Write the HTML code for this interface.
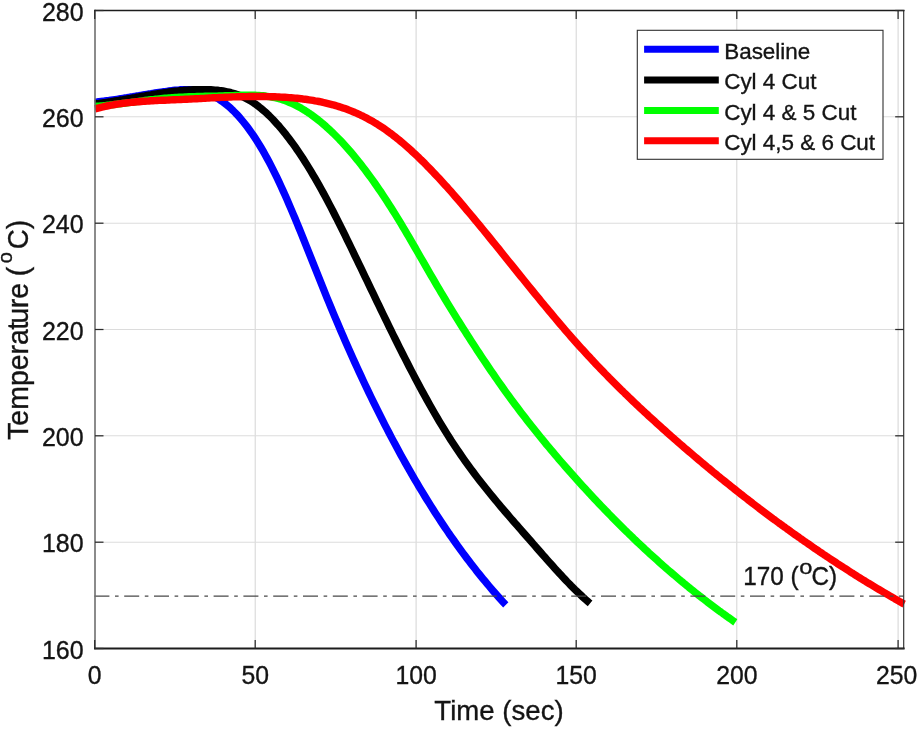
<!DOCTYPE html>
<html lang="en"><head><meta charset="utf-8">
<title>Temperature vs Time</title>
<style>
html,body{margin:0;padding:0;background:#fff;}
body{width:921px;height:730px;overflow:hidden;font-family:'Liberation Sans', Arial, Helvetica, sans-serif;}
svg{display:block;filter:blur(0.45px);}
text{font-family:'Liberation Sans', Arial, Helvetica, sans-serif;fill:#141414;stroke:#141414;stroke-width:0.35px;}
</style></head><body>
<svg width="921" height="730" viewBox="0 0 921 730">
<rect x="0" y="0" width="921" height="730" fill="#ffffff"/>
<g stroke="#d6d6d6" stroke-width="1.05" fill="none">
<line x1="255.2" y1="10.5" x2="255.2" y2="648.5"/>
<line x1="416.1" y1="10.5" x2="416.1" y2="648.5"/>
<line x1="576.2" y1="10.5" x2="576.2" y2="648.5"/>
<line x1="736.8" y1="10.5" x2="736.8" y2="648.5"/>
<line x1="898.1" y1="10.5" x2="898.1" y2="648.5"/>
</g>
<g stroke="#dcdcdc" stroke-width="1.05" fill="none">
<line x1="95.0" y1="542.2" x2="903.7" y2="542.2"/>
<line x1="95.0" y1="435.8" x2="903.7" y2="435.8"/>
<line x1="95.0" y1="329.5" x2="903.7" y2="329.5"/>
<line x1="95.0" y1="223.2" x2="903.7" y2="223.2"/>
<line x1="95.0" y1="116.8" x2="903.7" y2="116.8"/>
</g>
<g fill="none" stroke-width="7.4" stroke-linejoin="round" stroke-linecap="butt">
<path stroke="#0000ff" d="M95.0,102.2 L97.0,102.0 L99.0,101.7 L101.0,101.5 L103.0,101.3 L105.0,101.0 L107.0,100.7 L109.0,100.5 L111.0,100.2 L113.0,99.9 L115.0,99.6 L117.0,99.3 L119.0,99.0 L121.0,98.6 L123.0,98.3 L125.0,98.0 L127.0,97.7 L129.0,97.3 L131.0,97.0 L133.0,96.7 L135.0,96.3 L137.0,96.0 L139.0,95.7 L141.0,95.3 L143.0,95.0 L145.0,94.6 L147.0,94.3 L149.0,94.0 L151.0,93.7 L153.0,93.3 L155.0,93.0 L157.0,92.7 L159.0,92.4 L161.0,92.1 L163.0,91.8 L165.0,91.6 L167.0,91.3 L169.0,91.0 L171.0,90.8 L173.0,90.5 L175.0,90.3 L177.0,90.1 L179.0,90.0 L181.0,89.8 L183.0,89.7 L185.0,89.7 L187.0,89.7 L189.0,89.7 L191.0,89.8 L193.0,90.0 L195.0,90.2 L197.0,90.5 L199.0,90.9 L201.0,91.3 L203.0,91.8 L205.0,92.4 L207.0,93.1 L209.0,93.9 L211.0,94.8 L213.0,95.8 L215.0,96.8 L217.0,98.0 L219.0,99.2 L221.0,100.6 L223.0,102.0 L225.0,103.5 L227.0,105.1 L229.0,106.8 L231.0,108.6 L233.0,110.5 L235.0,112.5 L237.0,114.6 L239.0,116.8 L241.0,119.1 L243.0,121.5 L245.0,124.0 L247.0,126.6 L249.0,129.3 L251.0,132.1 L253.0,134.9 L255.0,137.9 L257.0,141.0 L259.0,144.2 L261.0,147.5 L263.0,150.9 L265.0,154.5 L267.0,158.1 L269.0,161.8 L271.0,165.6 L273.0,169.6 L275.0,173.6 L277.0,177.7 L279.0,181.9 L281.0,186.2 L283.0,190.6 L285.0,195.1 L287.0,199.6 L289.0,204.2 L291.0,208.9 L293.0,213.6 L295.0,218.3 L297.0,223.2 L299.0,228.0 L301.0,232.9 L303.0,237.9 L305.0,242.8 L307.0,247.8 L309.0,252.8 L311.0,257.8 L313.0,262.9 L315.0,267.9 L317.0,272.9 L319.0,277.9 L321.0,282.9 L323.0,287.9 L325.0,292.8 L327.0,297.8 L329.0,302.7 L331.0,307.5 L333.0,312.3 L335.0,317.1 L337.0,321.8 L339.0,326.5 L341.0,331.2 L343.0,335.8 L345.0,340.4 L347.0,345.0 L349.0,349.5 L351.0,354.0 L353.0,358.5 L355.0,362.9 L357.0,367.3 L359.0,371.6 L361.0,375.9 L363.0,380.2 L365.0,384.5 L367.0,388.7 L369.0,392.9 L371.0,397.0 L373.0,401.1 L375.0,405.2 L377.0,409.2 L379.0,413.2 L381.0,417.2 L383.0,421.2 L385.0,425.1 L387.0,428.9 L389.0,432.8 L391.0,436.6 L393.0,440.4 L395.0,444.1 L397.0,447.8 L399.0,451.5 L401.0,455.2 L403.0,458.8 L405.0,462.4 L407.0,465.9 L409.0,469.4 L411.0,472.9 L413.0,476.4 L415.0,479.8 L417.0,483.2 L419.0,486.6 L421.0,489.9 L423.0,493.2 L425.0,496.5 L427.0,499.7 L429.0,502.9 L431.0,506.1 L433.0,509.3 L435.0,512.4 L437.0,515.5 L439.0,518.6 L441.0,521.6 L443.0,524.6 L445.0,527.6 L447.0,530.5 L449.0,533.5 L451.0,536.3 L453.0,539.2 L455.0,542.0 L457.0,544.8 L459.0,547.6 L461.0,550.4 L463.0,553.1 L465.0,555.8 L467.0,558.5 L469.0,561.1 L471.0,563.7 L473.0,566.3 L475.0,568.8 L477.0,571.4 L479.0,573.9 L481.0,576.4 L483.0,578.8 L485.0,581.2 L487.0,583.6 L489.0,586.0 L491.0,588.4 L493.0,590.7 L495.0,593.0 L497.0,595.2 L499.0,597.5 L501.0,599.7 L503.0,601.9 L505.0,604.1 L505.8,604.9"/>
<path stroke="#000000" d="M95.0,103.9 L97.0,103.6 L99.0,103.4 L101.0,103.1 L103.0,102.8 L105.0,102.6 L107.0,102.3 L109.0,102.0 L111.0,101.7 L113.0,101.3 L115.0,101.0 L117.0,100.7 L119.0,100.4 L121.0,100.0 L123.0,99.7 L125.0,99.3 L127.0,99.0 L129.0,98.6 L131.0,98.3 L133.0,97.9 L135.0,97.6 L137.0,97.2 L139.0,96.8 L141.0,96.5 L143.0,96.1 L145.0,95.8 L147.0,95.4 L149.0,95.1 L151.0,94.8 L153.0,94.4 L155.0,94.1 L157.0,93.8 L159.0,93.5 L161.0,93.2 L163.0,92.9 L165.0,92.6 L167.0,92.3 L169.0,92.0 L171.0,91.8 L173.0,91.5 L175.0,91.3 L177.0,91.1 L179.0,90.8 L181.0,90.6 L183.0,90.5 L185.0,90.3 L187.0,90.1 L189.0,90.0 L191.0,89.9 L193.0,89.8 L195.0,89.7 L197.0,89.7 L199.0,89.6 L201.0,89.6 L203.0,89.6 L205.0,89.6 L207.0,89.6 L209.0,89.7 L211.0,89.8 L213.0,89.9 L215.0,90.1 L217.0,90.2 L219.0,90.5 L221.0,90.7 L223.0,91.0 L225.0,91.4 L227.0,91.8 L229.0,92.2 L231.0,92.7 L233.0,93.3 L235.0,93.9 L237.0,94.5 L239.0,95.3 L241.0,96.1 L243.0,97.0 L245.0,97.9 L247.0,98.9 L249.0,100.0 L251.0,101.2 L253.0,102.5 L255.0,103.8 L257.0,105.3 L259.0,106.8 L261.0,108.4 L263.0,110.1 L265.0,111.8 L267.0,113.6 L269.0,115.5 L271.0,117.5 L273.0,119.5 L275.0,121.7 L277.0,123.9 L279.0,126.1 L281.0,128.5 L283.0,130.9 L285.0,133.3 L287.0,135.9 L289.0,138.5 L291.0,141.2 L293.0,143.9 L295.0,146.7 L297.0,149.6 L299.0,152.5 L301.0,155.5 L303.0,158.6 L305.0,161.7 L307.0,164.9 L309.0,168.1 L311.0,171.4 L313.0,174.8 L315.0,178.2 L317.0,181.7 L319.0,185.2 L321.0,188.8 L323.0,192.4 L325.0,196.1 L327.0,199.8 L329.0,203.6 L331.0,207.4 L333.0,211.3 L335.0,215.2 L337.0,219.1 L339.0,223.1 L341.0,227.1 L343.0,231.2 L345.0,235.2 L347.0,239.3 L349.0,243.4 L351.0,247.5 L353.0,251.6 L355.0,255.8 L357.0,259.9 L359.0,264.1 L361.0,268.2 L363.0,272.4 L365.0,276.6 L367.0,280.7 L369.0,284.9 L371.0,289.1 L373.0,293.2 L375.0,297.4 L377.0,301.6 L379.0,305.7 L381.0,309.9 L383.0,314.0 L385.0,318.1 L387.0,322.2 L389.0,326.3 L391.0,330.4 L393.0,334.5 L395.0,338.5 L397.0,342.5 L399.0,346.6 L401.0,350.5 L403.0,354.5 L405.0,358.4 L407.0,362.3 L409.0,366.2 L411.0,370.1 L413.0,373.9 L415.0,377.7 L417.0,381.5 L419.0,385.3 L421.0,389.0 L423.0,392.6 L425.0,396.3 L427.0,399.9 L429.0,403.5 L431.0,407.0 L433.0,410.5 L435.0,414.0 L437.0,417.4 L439.0,420.8 L441.0,424.1 L443.0,427.4 L445.0,430.7 L447.0,433.9 L449.0,437.0 L451.0,440.2 L453.0,443.2 L455.0,446.3 L457.0,449.3 L459.0,452.2 L461.0,455.1 L463.0,458.0 L465.0,460.8 L467.0,463.6 L469.0,466.4 L471.0,469.1 L473.0,471.8 L475.0,474.4 L477.0,477.1 L479.0,479.7 L481.0,482.3 L483.0,484.8 L485.0,487.3 L487.0,489.8 L489.0,492.3 L491.0,494.8 L493.0,497.2 L495.0,499.6 L497.0,502.0 L499.0,504.4 L501.0,506.8 L503.0,509.2 L505.0,511.5 L507.0,513.8 L509.0,516.1 L511.0,518.5 L513.0,520.8 L515.0,523.1 L517.0,525.3 L519.0,527.6 L521.0,529.9 L523.0,532.2 L525.0,534.5 L527.0,536.8 L529.0,539.0 L531.0,541.3 L533.0,543.6 L535.0,545.9 L537.0,548.2 L539.0,550.5 L541.0,552.8 L543.0,555.1 L545.0,557.3 L547.0,559.6 L549.0,561.9 L551.0,564.1 L553.0,566.3 L555.0,568.6 L557.0,570.8 L559.0,572.9 L561.0,575.1 L563.0,577.3 L565.0,579.4 L567.0,581.5 L569.0,583.5 L571.0,585.6 L573.0,587.6 L575.0,589.6 L577.0,591.5 L579.0,593.4 L581.0,595.3 L583.0,597.2 L585.0,599.0 L587.0,600.7 L589.0,602.5 L590.1,603.4"/>
<path stroke="#00ff00" d="M95.0,106.5 L97.0,106.3 L99.0,106.1 L101.0,105.9 L103.0,105.8 L105.0,105.6 L107.0,105.3 L109.0,105.1 L111.0,104.9 L113.0,104.7 L115.0,104.4 L117.0,104.2 L119.0,103.9 L121.0,103.7 L123.0,103.4 L125.0,103.2 L127.0,102.9 L129.0,102.6 L131.0,102.4 L133.0,102.1 L135.0,101.9 L137.0,101.6 L139.0,101.3 L141.0,101.1 L143.0,100.8 L145.0,100.5 L147.0,100.3 L149.0,100.0 L151.0,99.8 L153.0,99.6 L155.0,99.3 L157.0,99.1 L159.0,98.9 L161.0,98.7 L163.0,98.5 L165.0,98.3 L167.0,98.1 L169.0,97.9 L171.0,97.8 L173.0,97.6 L175.0,97.5 L177.0,97.4 L179.0,97.3 L181.0,97.2 L183.0,97.1 L185.0,97.0 L187.0,96.9 L189.0,96.8 L191.0,96.7 L193.0,96.7 L195.0,96.6 L197.0,96.5 L199.0,96.5 L201.0,96.4 L203.0,96.4 L205.0,96.3 L207.0,96.3 L209.0,96.3 L211.0,96.2 L213.0,96.2 L215.0,96.1 L217.0,96.1 L219.0,96.0 L221.0,96.0 L223.0,95.9 L225.0,95.8 L227.0,95.8 L229.0,95.7 L231.0,95.6 L233.0,95.6 L235.0,95.5 L237.0,95.4 L239.0,95.4 L241.0,95.3 L243.0,95.2 L245.0,95.2 L247.0,95.2 L249.0,95.2 L251.0,95.2 L253.0,95.2 L255.0,95.3 L257.0,95.4 L259.0,95.5 L261.0,95.6 L263.0,95.8 L265.0,96.0 L267.0,96.3 L269.0,96.6 L271.0,96.9 L273.0,97.3 L275.0,97.7 L277.0,98.2 L279.0,98.7 L281.0,99.3 L283.0,99.9 L285.0,100.6 L287.0,101.4 L289.0,102.2 L291.0,103.0 L293.0,104.0 L295.0,104.9 L297.0,105.9 L299.0,107.0 L301.0,108.1 L303.0,109.3 L305.0,110.5 L307.0,111.8 L309.0,113.2 L311.0,114.5 L313.0,116.0 L315.0,117.5 L317.0,119.0 L319.0,120.6 L321.0,122.2 L323.0,123.9 L325.0,125.6 L327.0,127.4 L329.0,129.2 L331.0,131.1 L333.0,133.0 L335.0,135.0 L337.0,137.0 L339.0,139.0 L341.0,141.1 L343.0,143.3 L345.0,145.5 L347.0,147.7 L349.0,150.0 L351.0,152.3 L353.0,154.7 L355.0,157.1 L357.0,159.6 L359.0,162.0 L361.0,164.6 L363.0,167.2 L365.0,169.8 L367.0,172.5 L369.0,175.2 L371.0,177.9 L373.0,180.7 L375.0,183.5 L377.0,186.4 L379.0,189.3 L381.0,192.2 L383.0,195.2 L385.0,198.2 L387.0,201.3 L389.0,204.4 L391.0,207.5 L393.0,210.7 L395.0,213.9 L397.0,217.1 L399.0,220.4 L401.0,223.7 L403.0,227.1 L405.0,230.4 L407.0,233.8 L409.0,237.2 L411.0,240.7 L413.0,244.1 L415.0,247.5 L417.0,251.0 L419.0,254.5 L421.0,258.0 L423.0,261.4 L425.0,264.9 L427.0,268.4 L429.0,271.8 L431.0,275.3 L433.0,278.7 L435.0,282.2 L437.0,285.6 L439.0,288.9 L441.0,292.3 L443.0,295.7 L445.0,299.0 L447.0,302.3 L449.0,305.6 L451.0,308.9 L453.0,312.1 L455.0,315.4 L457.0,318.6 L459.0,321.8 L461.0,325.0 L463.0,328.2 L465.0,331.3 L467.0,334.5 L469.0,337.6 L471.0,340.7 L473.0,343.8 L475.0,346.8 L477.0,349.9 L479.0,352.9 L481.0,356.0 L483.0,359.0 L485.0,361.9 L487.0,364.9 L489.0,367.9 L491.0,370.8 L493.0,373.7 L495.0,376.6 L497.0,379.5 L499.0,382.3 L501.0,385.2 L503.0,388.0 L505.0,390.8 L507.0,393.6 L509.0,396.3 L511.0,399.1 L513.0,401.8 L515.0,404.5 L517.0,407.1 L519.0,409.8 L521.0,412.4 L523.0,415.0 L525.0,417.6 L527.0,420.2 L529.0,422.8 L531.0,425.3 L533.0,427.8 L535.0,430.3 L537.0,432.8 L539.0,435.3 L541.0,437.8 L543.0,440.2 L545.0,442.6 L547.0,445.1 L549.0,447.4 L551.0,449.8 L553.0,452.2 L555.0,454.6 L557.0,456.9 L559.0,459.3 L561.0,461.6 L563.0,463.9 L565.0,466.2 L567.0,468.5 L569.0,470.8 L571.0,473.0 L573.0,475.3 L575.0,477.5 L577.0,479.8 L579.0,482.0 L581.0,484.2 L583.0,486.4 L585.0,488.6 L587.0,490.8 L589.0,492.9 L591.0,495.1 L593.0,497.2 L595.0,499.4 L597.0,501.5 L599.0,503.6 L601.0,505.7 L603.0,507.8 L605.0,509.9 L607.0,511.9 L609.0,514.0 L611.0,516.0 L613.0,518.1 L615.0,520.1 L617.0,522.1 L619.0,524.1 L621.0,526.1 L623.0,528.1 L625.0,530.1 L627.0,532.0 L629.0,534.0 L631.0,535.9 L633.0,537.8 L635.0,539.8 L637.0,541.7 L639.0,543.6 L641.0,545.4 L643.0,547.3 L645.0,549.2 L647.0,551.0 L649.0,552.9 L651.0,554.7 L653.0,556.5 L655.0,558.3 L657.0,560.1 L659.0,561.9 L661.0,563.7 L663.0,565.5 L665.0,567.2 L667.0,569.0 L669.0,570.7 L671.0,572.4 L673.0,574.1 L675.0,575.8 L677.0,577.5 L679.0,579.2 L681.0,580.9 L683.0,582.5 L685.0,584.2 L687.0,585.8 L689.0,587.5 L691.0,589.1 L693.0,590.7 L695.0,592.3 L697.0,593.9 L699.0,595.5 L701.0,597.0 L703.0,598.6 L705.0,600.1 L707.0,601.7 L709.0,603.2 L711.0,604.7 L713.0,606.2 L715.0,607.7 L717.0,609.2 L719.0,610.7 L721.0,612.1 L723.0,613.6 L725.0,615.0 L727.0,616.5 L729.0,617.9 L731.0,619.3 L733.0,620.7 L735.0,622.1 L735.3,622.3"/>
<path stroke="#ff0000" d="M95.0,108.8 L97.0,108.3 L99.0,107.8 L101.0,107.3 L103.0,106.9 L105.0,106.4 L107.0,106.0 L109.0,105.6 L111.0,105.2 L113.0,104.9 L115.0,104.5 L117.0,104.2 L119.0,103.9 L121.0,103.6 L123.0,103.3 L125.0,103.1 L127.0,102.8 L129.0,102.6 L131.0,102.4 L133.0,102.2 L135.0,102.0 L137.0,101.8 L139.0,101.7 L141.0,101.5 L143.0,101.3 L145.0,101.2 L147.0,101.1 L149.0,101.0 L151.0,100.8 L153.0,100.7 L155.0,100.6 L157.0,100.5 L159.0,100.4 L161.0,100.3 L163.0,100.2 L165.0,100.2 L167.0,100.1 L169.0,100.0 L171.0,99.9 L173.0,99.8 L175.0,99.7 L177.0,99.6 L179.0,99.6 L181.0,99.5 L183.0,99.4 L185.0,99.3 L187.0,99.2 L189.0,99.1 L191.0,99.0 L193.0,98.9 L195.0,98.8 L197.0,98.7 L199.0,98.6 L201.0,98.5 L203.0,98.4 L205.0,98.3 L207.0,98.1 L209.0,98.0 L211.0,97.9 L213.0,97.8 L215.0,97.7 L217.0,97.6 L219.0,97.5 L221.0,97.4 L223.0,97.4 L225.0,97.3 L227.0,97.2 L229.0,97.1 L231.0,97.0 L233.0,96.9 L235.0,96.9 L237.0,96.8 L239.0,96.7 L241.0,96.7 L243.0,96.6 L245.0,96.6 L247.0,96.6 L249.0,96.5 L251.0,96.5 L253.0,96.5 L255.0,96.5 L257.0,96.5 L259.0,96.5 L261.0,96.5 L263.0,96.5 L265.0,96.5 L267.0,96.6 L269.0,96.6 L271.0,96.7 L273.0,96.7 L275.0,96.8 L277.0,96.9 L279.0,97.0 L281.0,97.1 L283.0,97.2 L285.0,97.3 L287.0,97.4 L289.0,97.6 L291.0,97.7 L293.0,97.9 L295.0,98.1 L297.0,98.3 L299.0,98.5 L301.0,98.7 L303.0,99.0 L305.0,99.2 L307.0,99.5 L309.0,99.8 L311.0,100.1 L313.0,100.4 L315.0,100.8 L317.0,101.1 L319.0,101.5 L321.0,101.9 L323.0,102.4 L325.0,102.8 L327.0,103.3 L329.0,103.8 L331.0,104.3 L333.0,104.8 L335.0,105.4 L337.0,106.0 L339.0,106.6 L341.0,107.2 L343.0,107.9 L345.0,108.6 L347.0,109.3 L349.0,110.1 L351.0,110.9 L353.0,111.7 L355.0,112.5 L357.0,113.4 L359.0,114.3 L361.0,115.3 L363.0,116.2 L365.0,117.2 L367.0,118.3 L369.0,119.4 L371.0,120.5 L373.0,121.6 L375.0,122.8 L377.0,124.0 L379.0,125.3 L381.0,126.6 L383.0,127.9 L385.0,129.3 L387.0,130.7 L389.0,132.2 L391.0,133.6 L393.0,135.2 L395.0,136.7 L397.0,138.3 L399.0,139.9 L401.0,141.6 L403.0,143.3 L405.0,145.0 L407.0,146.7 L409.0,148.5 L411.0,150.3 L413.0,152.2 L415.0,154.0 L417.0,155.9 L419.0,157.8 L421.0,159.8 L423.0,161.7 L425.0,163.7 L427.0,165.8 L429.0,167.8 L431.0,169.9 L433.0,172.0 L435.0,174.1 L437.0,176.2 L439.0,178.3 L441.0,180.5 L443.0,182.7 L445.0,184.9 L447.0,187.1 L449.0,189.4 L451.0,191.6 L453.0,193.9 L455.0,196.2 L457.0,198.5 L459.0,200.8 L461.0,203.2 L463.0,205.5 L465.0,207.9 L467.0,210.3 L469.0,212.6 L471.0,215.0 L473.0,217.4 L475.0,219.8 L477.0,222.3 L479.0,224.7 L481.0,227.1 L483.0,229.5 L485.0,232.0 L487.0,234.4 L489.0,236.9 L491.0,239.4 L493.0,241.8 L495.0,244.3 L497.0,246.8 L499.0,249.2 L501.0,251.7 L503.0,254.2 L505.0,256.7 L507.0,259.2 L509.0,261.7 L511.0,264.1 L513.0,266.6 L515.0,269.1 L517.0,271.6 L519.0,274.1 L521.0,276.6 L523.0,279.0 L525.0,281.5 L527.0,284.0 L529.0,286.5 L531.0,288.9 L533.0,291.4 L535.0,293.8 L537.0,296.3 L539.0,298.7 L541.0,301.2 L543.0,303.6 L545.0,306.0 L547.0,308.4 L549.0,310.8 L551.0,313.2 L553.0,315.6 L555.0,318.0 L557.0,320.4 L559.0,322.7 L561.0,325.1 L563.0,327.4 L565.0,329.8 L567.0,332.1 L569.0,334.4 L571.0,336.7 L573.0,338.9 L575.0,341.2 L577.0,343.5 L579.0,345.7 L581.0,347.9 L583.0,350.1 L585.0,352.3 L587.0,354.5 L589.0,356.6 L591.0,358.8 L593.0,360.9 L595.0,363.1 L597.0,365.2 L599.0,367.3 L601.0,369.4 L603.0,371.4 L605.0,373.5 L607.0,375.5 L609.0,377.6 L611.0,379.6 L613.0,381.6 L615.0,383.6 L617.0,385.6 L619.0,387.6 L621.0,389.6 L623.0,391.5 L625.0,393.5 L627.0,395.4 L629.0,397.4 L631.0,399.3 L633.0,401.2 L635.0,403.1 L637.0,405.0 L639.0,406.9 L641.0,408.7 L643.0,410.6 L645.0,412.5 L647.0,414.3 L649.0,416.2 L651.0,418.0 L653.0,419.8 L655.0,421.6 L657.0,423.5 L659.0,425.3 L661.0,427.1 L663.0,428.9 L665.0,430.6 L667.0,432.4 L669.0,434.2 L671.0,436.0 L673.0,437.7 L675.0,439.5 L677.0,441.2 L679.0,443.0 L681.0,444.7 L683.0,446.4 L685.0,448.2 L687.0,449.9 L689.0,451.6 L691.0,453.3 L693.0,455.0 L695.0,456.7 L697.0,458.4 L699.0,460.1 L701.0,461.8 L703.0,463.5 L705.0,465.1 L707.0,466.8 L709.0,468.4 L711.0,470.1 L713.0,471.8 L715.0,473.4 L717.0,475.0 L719.0,476.7 L721.0,478.3 L723.0,479.9 L725.0,481.5 L727.0,483.1 L729.0,484.7 L731.0,486.3 L733.0,487.9 L735.0,489.5 L737.0,491.1 L739.0,492.7 L741.0,494.3 L743.0,495.8 L745.0,497.4 L747.0,498.9 L749.0,500.5 L751.0,502.0 L753.0,503.6 L755.0,505.1 L757.0,506.6 L759.0,508.2 L761.0,509.7 L763.0,511.2 L765.0,512.7 L767.0,514.2 L769.0,515.7 L771.0,517.2 L773.0,518.7 L775.0,520.1 L777.0,521.6 L779.0,523.1 L781.0,524.5 L783.0,526.0 L785.0,527.4 L787.0,528.9 L789.0,530.3 L791.0,531.8 L793.0,533.2 L795.0,534.6 L797.0,536.0 L799.0,537.4 L801.0,538.9 L803.0,540.3 L805.0,541.7 L807.0,543.0 L809.0,544.4 L811.0,545.8 L813.0,547.2 L815.0,548.6 L817.0,549.9 L819.0,551.3 L821.0,552.6 L823.0,554.0 L825.0,555.3 L827.0,556.7 L829.0,558.0 L831.0,559.3 L833.0,560.6 L835.0,561.9 L837.0,563.3 L839.0,564.6 L841.0,565.9 L843.0,567.2 L845.0,568.4 L847.0,569.7 L849.0,571.0 L851.0,572.3 L853.0,573.5 L855.0,574.8 L857.0,576.1 L859.0,577.3 L861.0,578.6 L863.0,579.8 L865.0,581.0 L867.0,582.3 L869.0,583.5 L871.0,584.7 L873.0,585.9 L875.0,587.1 L877.0,588.3 L879.0,589.5 L881.0,590.7 L883.0,591.9 L885.0,593.1 L887.0,594.2 L889.0,595.4 L891.0,596.6 L893.0,597.7 L895.0,598.9 L897.0,600.0 L899.0,601.2 L901.0,602.3 L903.0,603.5 L904.2,604.1"/>
</g>
<line x1="94.4" y1="596.0" x2="903.7" y2="596.0" stroke="#484848" stroke-width="1.25" stroke-dasharray="15 5.6 3.6 5.6"/>
<g fill="none" stroke-linecap="square">
<line x1="95.0" y1="10.5" x2="95.0" y2="648.5" stroke="#6e6e6e" stroke-width="1.6"/>
<line x1="903.7" y1="10.5" x2="903.7" y2="648.5" stroke="#2e2e2e" stroke-width="1.15"/>
<line x1="95.0" y1="10.5" x2="903.7" y2="10.5" stroke="#1c1c1c" stroke-width="1.7"/>
<line x1="95.0" y1="648.5" x2="903.7" y2="648.5" stroke="#1c1c1c" stroke-width="1.9"/>
</g>
<g stroke="#2b2b2b" stroke-width="1.25" fill="none">
<line x1="94.7" y1="648.5" x2="94.7" y2="640.0"/>
<line x1="94.7" y1="10.5" x2="94.7" y2="19.0"/>
<line x1="255.2" y1="648.5" x2="255.2" y2="640.0"/>
<line x1="255.2" y1="10.5" x2="255.2" y2="19.0"/>
<line x1="416.1" y1="648.5" x2="416.1" y2="640.0"/>
<line x1="416.1" y1="10.5" x2="416.1" y2="19.0"/>
<line x1="576.2" y1="648.5" x2="576.2" y2="640.0"/>
<line x1="576.2" y1="10.5" x2="576.2" y2="19.0"/>
<line x1="736.8" y1="648.5" x2="736.8" y2="640.0"/>
<line x1="736.8" y1="10.5" x2="736.8" y2="19.0"/>
<line x1="898.1" y1="648.5" x2="898.1" y2="640.0"/>
<line x1="898.1" y1="10.5" x2="898.1" y2="19.0"/>
<line x1="95.0" y1="648.5" x2="103.5" y2="648.5"/>
<line x1="903.7" y1="648.5" x2="895.2" y2="648.5"/>
<line x1="95.0" y1="542.2" x2="103.5" y2="542.2"/>
<line x1="903.7" y1="542.2" x2="895.2" y2="542.2"/>
<line x1="95.0" y1="435.8" x2="103.5" y2="435.8"/>
<line x1="903.7" y1="435.8" x2="895.2" y2="435.8"/>
<line x1="95.0" y1="329.5" x2="103.5" y2="329.5"/>
<line x1="903.7" y1="329.5" x2="895.2" y2="329.5"/>
<line x1="95.0" y1="223.2" x2="103.5" y2="223.2"/>
<line x1="903.7" y1="223.2" x2="895.2" y2="223.2"/>
<line x1="95.0" y1="116.8" x2="103.5" y2="116.8"/>
<line x1="903.7" y1="116.8" x2="895.2" y2="116.8"/>
<line x1="95.0" y1="10.5" x2="103.5" y2="10.5"/>
<line x1="903.7" y1="10.5" x2="895.2" y2="10.5"/>
</g>
<g font-size="25.5" text-anchor="middle">
<text transform="translate(94.7,684.3) scale(0.972,1)">0</text>
<text transform="translate(255.2,684.3) scale(0.972,1)">50</text>
<text transform="translate(416.1,684.3) scale(0.972,1)">100</text>
<text transform="translate(576.2,684.3) scale(0.972,1)">150</text>
<text transform="translate(736.8,684.3) scale(0.972,1)">200</text>
<text transform="translate(896.7,684.3) scale(0.972,1)">250</text>
</g>
<g font-size="25.5" text-anchor="end">
<text transform="translate(83.6,658.5) scale(0.98,1)">160</text>
<text transform="translate(83.6,552.2) scale(0.98,1)">180</text>
<text transform="translate(83.6,445.8) scale(0.98,1)">200</text>
<text transform="translate(83.6,339.5) scale(0.98,1)">220</text>
<text transform="translate(83.6,233.2) scale(0.98,1)">240</text>
<text transform="translate(83.6,126.8) scale(0.98,1)">260</text>
<text transform="translate(83.6,20.5) scale(0.98,1)">280</text>
</g>
<text x="499" y="719.5" font-size="27.6" text-anchor="middle">Time (sec)</text>
<text transform="translate(28.0,439.9) rotate(-90) scale(0.989,1)" font-size="28.8">Tempera<tspan dx="-0.6">t</tspan><tspan dx="-1.6">u</tspan><tspan dx="-0.8">r</tspan>e <tspan dx="-1.0">(</tspan></text>
<text transform="translate(12.4,263.3) rotate(-90) scale(0.962,1)" font-size="20.8">o</text>
<text transform="translate(28.0,249.2) rotate(-90) scale(0.962,1)" font-size="28.8">C)</text>
<text transform="translate(743.2,585) scale(1,1.09)" font-size="24.3">170 (</text>
<text transform="translate(799.3,574.2) scale(1.13,1)" font-size="21">o</text>
<text transform="translate(811.4,585) scale(1,1.09)" font-size="24.3">C)</text>
<rect x="637.3" y="30.3" width="245.7" height="129.0" fill="#ffffff" stroke="#303030" stroke-width="1.1"/>
<line x1="644.1" y1="49.3" x2="718.8" y2="49.3" stroke="#0000ff" stroke-width="7"/>
<text x="724.2" y="59.0" font-size="22.45">Baseline</text>
<line x1="644.1" y1="80.0" x2="718.8" y2="80.0" stroke="#000000" stroke-width="7"/>
<text x="724.2" y="89.4" font-size="22.45">Cyl 4 Cut</text>
<line x1="644.1" y1="110.4" x2="718.8" y2="110.4" stroke="#00ff00" stroke-width="7"/>
<text x="724.2" y="119.7" font-size="22.45">Cyl 4 &amp; 5 Cut</text>
<line x1="644.1" y1="140.8" x2="718.8" y2="140.8" stroke="#ff0000" stroke-width="7"/>
<text x="724.2" y="150.0" font-size="22.45">Cyl 4,5 &amp; 6 Cut</text>
</svg>
</body></html>
